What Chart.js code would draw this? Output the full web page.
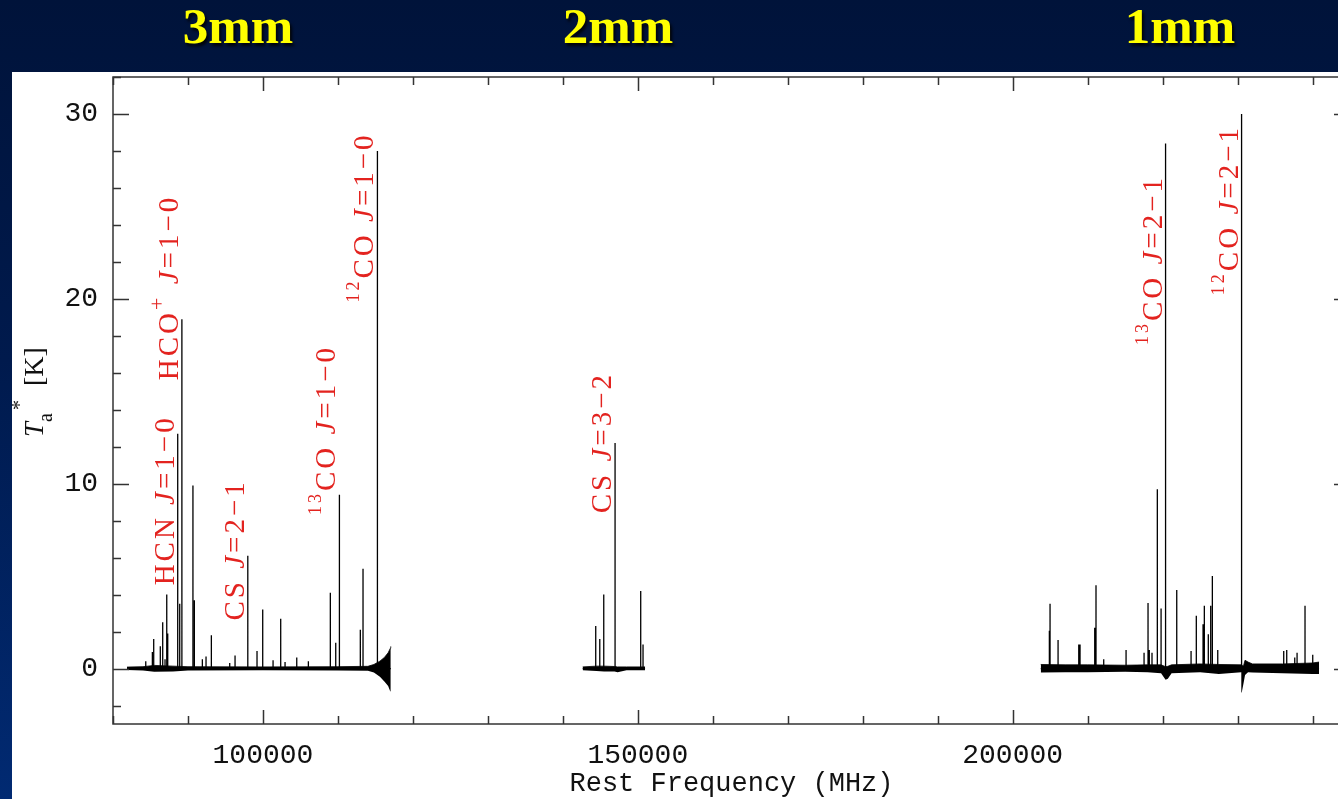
<!DOCTYPE html>
<html>
<head>
<meta charset="utf-8">
<script src="https://cdn.jsdelivr.net/npm/chart.js@4.4.0/dist/chart.umd.min.js"></script>
<style>
  html, body { margin: 0; padding: 0; width: 1338px; height: 799px; overflow: hidden; }
  body {
    position: relative;
    background: linear-gradient(to bottom, #00133a 0%, #001a4d 45%, #012a72 100%);
  }
  .band {
    position: absolute;
    top: -3px;
    line-height: 1;
    color: #ffff00;
    font: bold 51px "Liberation Serif", serif;
    text-shadow: 2px 3px 3px rgba(0, 0, 0, 0.85);
    transform: translateX(-50%);
    white-space: nowrap;
  }
  #panel { position: absolute; left: 12px; top: 72px; width: 1400px; height: 727px; background: #fff; }
  canvas { display: block; }
</style>
</head>
<body>
<div class="band" style="left:238px">3mm</div>
<div class="band" style="left:618px">2mm</div>
<div class="band" style="left:1180px">1mm</div>
<div id="panel"><canvas id="spec" width="1400" height="727"></canvas></div>

<script>
// axis ticks: frequency in MHz, antenna temperature in K
const freqTicks = [80000, 90000, 100000, 110000, 120000, 130000, 140000, 150000, 160000,
                   170000, 180000, 190000, 200000, 210000, 220000, 230000, 240000];
const tempTicks = [-2, 0, 2, 4, 6, 8, 10, 12, 14, 16, 18, 20, 22, 24, 26, 28, 30, 32];

// frequency coverage of the three receiver bands (MHz)
const bandEdges = [[81870, 117050], [142650, 150970], [203750, 240870]];

// baseline noise envelope (K), null separates the bands
const noiseFreq = [81870, 84000, 85500, 88000, 90000, 100000, 110000, 114000, 114800, 115600, 116200, 116700, 117000, 117050, null,
                   142650, 144500, 145500, 146900, 147300, 148500, 150970, null,
                   203750, 207000, 210000, 215000, 218000, 219800, 220400, 220700, 221200, 225000, 227500, 230500, 230560, 230800, 231000, 231400, 232000, 236000, 240000, 240870];
const noiseLow  = [-0.08, -0.1, -0.17, -0.16, -0.1, -0.09, -0.1, -0.12, -0.22, -0.45, -0.7, -0.95, -1.25, -1.2, null,
                   -0.09, -0.13, -0.16, -0.16, -0.2, -0.09, -0.09, null,
                   -0.22, -0.2, -0.2, -0.18, -0.2, -0.25, -0.6, -0.55, -0.25, -0.2, -0.3, -0.2, -1.3, -0.8, -0.35, -0.2, -0.22, -0.25, -0.3, -0.3];
const noiseHigh = [0.08, 0.1, 0.17, 0.13, 0.1, 0.09, 0.1, 0.12, 0.22, 0.4, 0.6, 0.85, 1.1, 1.2, null,
                   0.09, 0.13, 0.13, 0.11, 0.09, 0.09, 0.09, null,
                   0.22, 0.2, 0.2, 0.18, 0.2, 0.2, 0.1, 0.12, 0.2, 0.25, 0.22, 0.2, 0.15, 0.15, 0.45, 0.35, 0.25, 0.25, 0.3, 0.35];

// emission lines: rest frequency (MHz) and peak T_a* (K)
const lineFreq = [84370, 85250, 85430, 86310, 86630, 86940, 87170, 87300, 88632, 88900, 89189, 90663, 90850,
                  91920, 92410, 93120, 95570, 96280, 97981, 99210, 99970, 101350, 102370, 102950, 104510,
                  106060, 108990, 109710, 110201, 112990, 113350, 115271,
                  144390, 144930, 145460, 146969, 150390, 150700,
                  204900, 204990, 206060, 208820, 208990, 210950, 211120, 212150, 215130, 217530, 218060,
                  218230, 218590, 219300, 219800, 220399, 221890, 223800, 224500, 225400, 225570, 226100,
                  226420, 226640, 227360, 230538, 236160, 236560, 237630, 237940, 239000, 240030];
const linePeak = [0.4, 0.9, 1.6, 1.2, 2.5, 0.5, 4.0, 1.9, 12.7, 3.5, 18.9, 9.9, 3.7,
                  0.5, 0.65, 1.8, 0.3, 0.7, 6.1, 0.95, 3.2, 0.45, 2.7, 0.35, 0.6,
                  0.4, 4.1, 1.4, 9.4, 2.1, 5.4, 28.0,
                  2.3, 1.6, 4.0, 12.2, 4.2, 1.3,
                  2.05, 3.5, 1.55, 1.3, 1.3, 2.2, 4.5, 0.5, 1.0, 0.85, 3.55,
                  1.0, 0.85, 9.7, 3.25, 28.4, 4.25, 0.95, 2.85, 2.4, 3.4, 1.85,
                  3.4, 5.0, 1.0, 30.0, 0.95, 1.0, 0.6, 0.85, 3.4, 0.75];

// transition labels: line frequency, temperature where the label starts, text pieces
const labelFreq = [88632, 89189, 97981, 110201, 115271, 146969, 220399, 230538];
const labelBase = [4.5, 15.6, 2.6, 8.3, 19.8, 8.4, 17.5, 20.2];
const labelParts = [
  [['rm', 'HCN '], ['it', 'J'], ['rm', '=1\u22120']],
  [['rm', 'HCO'], ['sup', '+'], ['rm', ' '], ['it', 'J'], ['rm', '=1\u22120']],
  [['rm', 'CS '], ['it', 'J'], ['rm', '=2\u22121']],
  [['sup', '13'], ['rm', 'CO '], ['it', 'J'], ['rm', '=1\u22120']],
  [['sup', '12'], ['rm', 'CO '], ['it', 'J'], ['rm', '=1\u22120']],
  [['rm', 'CS '], ['it', 'J'], ['rm', '=3\u22122']],
  [['sup', '13'], ['rm', 'CO '], ['it', 'J'], ['rm', '=2\u22121']],
  [['sup', '12'], ['rm', 'CO '], ['it', 'J'], ['rm', '=2\u22121']]
];

// spectrum trace: flat baseline in each band with the lines as vertical spikes
const spectrum = [];
bandEdges.forEach(([lo, hi]) => {
  spectrum.push({x: lo, y: 0});
  lineFreq.forEach((f, i) => {
    if (f > lo && f < hi) {
      spectrum.push({x: f, y: 0}, {x: f, y: linePeak[i]}, {x: f, y: 0});
    }
  });
  spectrum.push({x: hi, y: 0}, {x: hi, y: null});
});

const lowEdge = noiseFreq.map((f, i) => ({x: f === null ? noiseFreq[i - 1] : f, y: noiseLow[i]}));
const highEdge = noiseFreq.map((f, i) => ({x: f === null ? noiseFreq[i - 1] : f, y: noiseHigh[i]}));

const monoFont = '"Liberation Mono", "DejaVu Sans Mono", monospace';
const serifFont = '"Liberation Serif", "DejaVu Serif", serif';

// box around the plot with inward pointing ticks on all four sides
const frameTicks = {
  id: 'frameTicks',
  afterDatasetsDraw(chart) {
    const {ctx, chartArea: a, scales: {x, y}} = chart;
    ctx.save();
    ctx.strokeStyle = '#333';
    ctx.lineWidth = 1.5;
    ctx.strokeRect(a.left, a.top, a.right - a.left, a.bottom - a.top);
    ctx.beginPath();
    freqTicks.forEach(v => {
      const px = Math.round(x.getPixelForValue(v)) + 0.5;
      const len = v % 50000 === 0 ? 14 : 8;
      ctx.moveTo(px, a.bottom); ctx.lineTo(px, a.bottom - len);
      ctx.moveTo(px, a.top); ctx.lineTo(px, a.top + len);
    });
    tempTicks.forEach(v => {
      const py = Math.round(y.getPixelForValue(v)) + 0.5;
      const len = v % 10 === 0 ? 16 : 8;
      ctx.moveTo(a.left, py); ctx.lineTo(a.left + len, py);
      ctx.moveTo(a.right, py); ctx.lineTo(a.right - len, py);
    });
    ctx.stroke();
    ctx.restore();
  }
};

// red transition names written upward next to their lines
const lineLabels = {
  id: 'lineLabels',
  afterDatasetsDraw(chart) {
    const {ctx, scales: {x, y}} = chart;
    labelFreq.forEach((f, i) => {
      ctx.save();
      ctx.translate(x.getPixelForValue(f) - 4, y.getPixelForValue(labelBase[i]));
      ctx.rotate(-Math.PI / 2);
      ctx.fillStyle = '#e3231f';
      ctx.textBaseline = 'alphabetic';
      ctx.textAlign = 'left';
      ctx.letterSpacing = '3px';
      let cx = 0;
      labelParts[i].forEach(([kind, txt]) => {
        const small = kind === 'sup';
        const size = small ? (txt === '+' ? 22 : 18) : 29;
        ctx.font = (kind === 'it' ? 'italic ' : '') + size + 'px ' + serifFont;
        ctx.fillText(txt, cx, small ? -14 : 0);
        cx += ctx.measureText(txt).width;
      });
      ctx.restore();
    });
  }
};

// y axis title T_a^* [K], written upward
const yTitle = {
  id: 'yTitle',
  afterDraw(chart) {
    const ctx = chart.ctx;
    ctx.save();
    ctx.translate(31, 365);
    ctx.rotate(-Math.PI / 2);
    ctx.fillStyle = '#111';
    ctx.textBaseline = 'alphabetic';
    ctx.font = 'italic 27px ' + serifFont;
    ctx.fillText('T', 0, 0);
    ctx.font = '20px ' + serifFont;
    ctx.fillText('a', 15, 9);
    ctx.fillText('*', 27, -17);
    ctx.font = '28px ' + serifFont;
    ctx.fillText('[K]', 51, 0);
    ctx.restore();
  }
};

new Chart(document.getElementById('spec'), {
  type: 'line',
  data: {
    datasets: [
      {
        label: 'noise low',
        data: lowEdge,
        borderWidth: 0,
        borderColor: '#000',
        pointRadius: 0,
        fill: false,
        spanGaps: false
      },
      {
        label: 'noise high',
        data: highEdge,
        borderWidth: 0.8,
        borderColor: '#000',
        backgroundColor: '#000',
        pointRadius: 0,
        fill: '-1',
        spanGaps: false
      },
      {
        label: 'spectrum',
        data: spectrum,
        borderWidth: 1.3,
        borderColor: '#000',
        pointRadius: 0,
        fill: false,
        spanGaps: false
      }
    ]
  },
  options: {
    responsive: false,
    animation: false,
    devicePixelRatio: 1,
    layout: {padding: {left: 0, right: 62, top: 5, bottom: 0}},
    elements: {line: {tension: 0}},
    plugins: {legend: {display: false}, tooltip: {enabled: false}},
    scales: {
      x: {
        type: 'linear',
        min: 80000,
        max: 245000,
        grid: {display: false, drawTicks: false},
        border: {display: false},
        afterBuildTicks: scale => { scale.ticks = freqTicks.map(v => ({value: v})); },
        afterFit: scale => {
          scale.height = 75;
          scale.paddingLeft = 0;
          scale.paddingRight = 0;
        },
        ticks: {
          autoSkip: false,
          maxRotation: 0,
          minRotation: 0,
          padding: 15,
          color: '#111',
          font: {family: monoFont, size: 28},
          callback: v => (v % 50000 === 0 ? String(v) : '')
        },
        title: {
          display: true,
          text: 'Rest Frequency (MHz)',
          color: '#111',
          padding: {top: 0, bottom: 0},
          font: {family: monoFont, size: 27, lineHeight: 1.1}
        }
      },
      y: {
        type: 'linear',
        min: -3,
        max: 32,
        grid: {display: false, drawTicks: false},
        border: {display: false},
        afterBuildTicks: scale => { scale.ticks = tempTicks.map(v => ({value: v})); },
        afterFit: scale => {
          scale.width = 101;
          scale.paddingTop = 0;
          scale.paddingBottom = 0;
        },
        ticks: {
          autoSkip: false,
          padding: 15,
          color: '#111',
          font: {family: monoFont, size: 28},
          callback: v => (v % 10 === 0 ? String(v) : '')
        }
      }
    }
  },
  plugins: [frameTicks, lineLabels, yTitle]
});
</script>
</body>
</html>
